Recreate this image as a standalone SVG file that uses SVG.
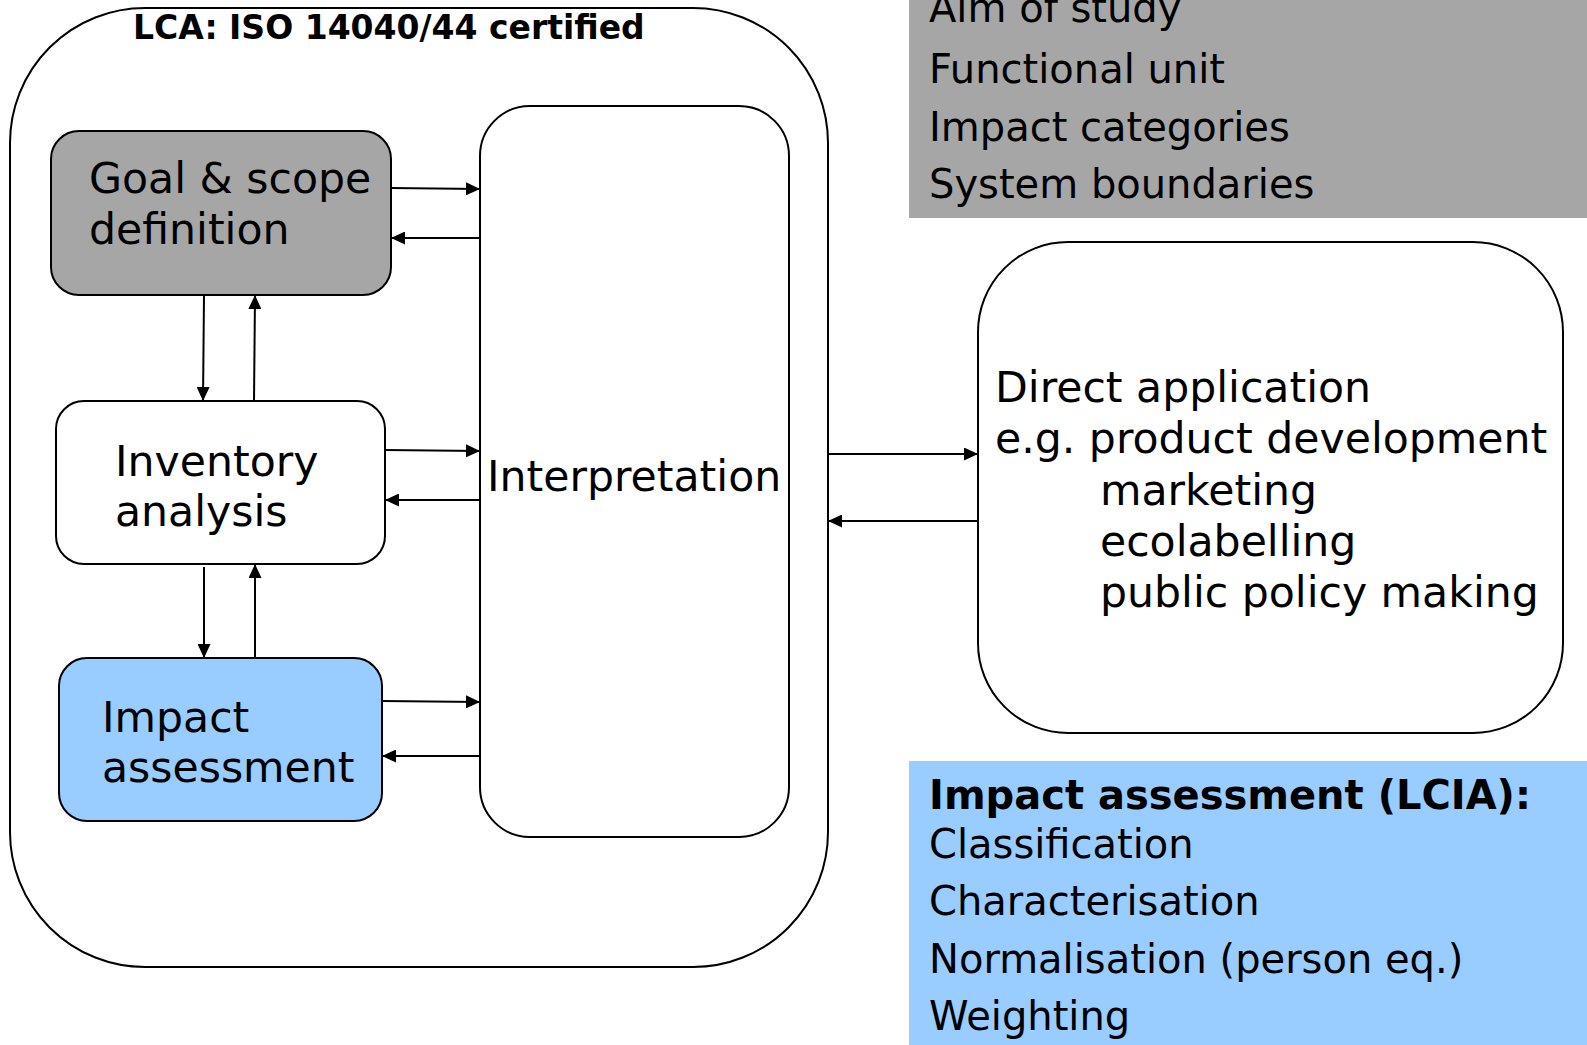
<svg xmlns="http://www.w3.org/2000/svg" width="1587" height="1045" viewBox="0 0 1587 1045">
<defs>
<style>
.box{stroke:#000;stroke-width:2}
.t{font-family:"DejaVu Sans","Verdana",sans-serif;fill:#000}
.n{font-size:42.6px}
.s{font-size:40px}
.b{font-weight:bold}
.c{stroke:#000;stroke-width:2;fill:none;marker-end:url(#ah)}
</style>
<marker id="ah" viewBox="0 0 14 13" refX="14" refY="6.5" markerWidth="14" markerHeight="13" markerUnits="userSpaceOnUse" orient="auto">
<path d="M0,0 L14,6.5 L0,13 Z" fill="#000"/>
</marker>
</defs>
<rect width="1587" height="1045" fill="#fff"/>
<g id="lca">
<rect class="box" x="10" y="8" width="818" height="959" rx="135" ry="135" fill="#fff"/>
<text class="t b" x="133" y="39" font-size="33">LCA: ISO 14040/44 certified</text>
</g>
<g id="goal">
<rect class="box" x="51" y="131" width="340" height="164" rx="28" fill="#a6a6a6"/>
<text class="t n" x="89" y="193">Goal &amp; scope</text>
<text class="t n" x="89" y="244">definition</text>
</g>
<g id="inventory">
<rect class="box" x="56" y="401" width="329" height="163" rx="28" fill="#fff"/>
<text class="t n" x="115" y="476">Inventory</text>
<text class="t n" x="115" y="526">analysis</text>
</g>
<g id="impact">
<rect class="box" x="59" y="658" width="323" height="163" rx="28" fill="#99ccff"/>
<text class="t n" x="102" y="732">Impact</text>
<text class="t n" x="102" y="782">assessment</text>
</g>
<g id="interpretation">
<rect class="box" x="480" y="106" width="309" height="731" rx="50" fill="#fff"/>
<text class="t n" x="487" y="491">Interpretation</text>
</g>
<g id="application">
<rect class="box" x="978" y="242" width="585" height="491" rx="90" fill="#fff"/>
<text class="t n" x="995" y="402">Direct application</text>
<text class="t n" x="995" y="453">e.g. product development</text>
<text class="t n" x="1100" y="505">marketing</text>
<text class="t n" x="1100" y="556">ecolabelling</text>
<text class="t n" x="1100" y="607">public policy making</text>
</g>
<g id="goal-details">
<rect x="909" y="-2" width="680" height="220" fill="#a6a6a6"/>
<text class="t s" x="929" y="22">Aim of study</text>
<text class="t s" x="929" y="83">Functional unit</text>
<text class="t s" x="929" y="141">Impact categories</text>
<text class="t s" x="929" y="198">System boundaries</text>
</g>
<g id="lcia-details">
<rect x="909" y="761" width="680" height="286" fill="#99ccff"/>
<text class="t s b" x="929" y="809">Impact assessment (LCIA):</text>
<text class="t s" x="929" y="858">Classification</text>
<text class="t s" x="929" y="915">Characterisation</text>
<text class="t s" x="929" y="973">Normalisation (person eq.)</text>
<text class="t s" x="929" y="1030">Weighting</text>
</g>
<g id="connectors">
<path class="c" d="M391,188 L480,189"/>
<path class="c" d="M480,238 L391,238"/>
<path class="c" d="M204,295 L203,401"/>
<path class="c" d="M254,401 L255,295"/>
<path class="c" d="M385,450 L480,451"/>
<path class="c" d="M480,500 L385,500"/>
<path class="c" d="M204,567 L204,658"/>
<path class="c" d="M255,658 L255,564"/>
<path class="c" d="M382,701 L480,702"/>
<path class="c" d="M480,756 L382,756"/>
<path class="c" d="M828,454 L978,454"/>
<path class="c" d="M978,521 L828,521"/>
</g>
</svg>
